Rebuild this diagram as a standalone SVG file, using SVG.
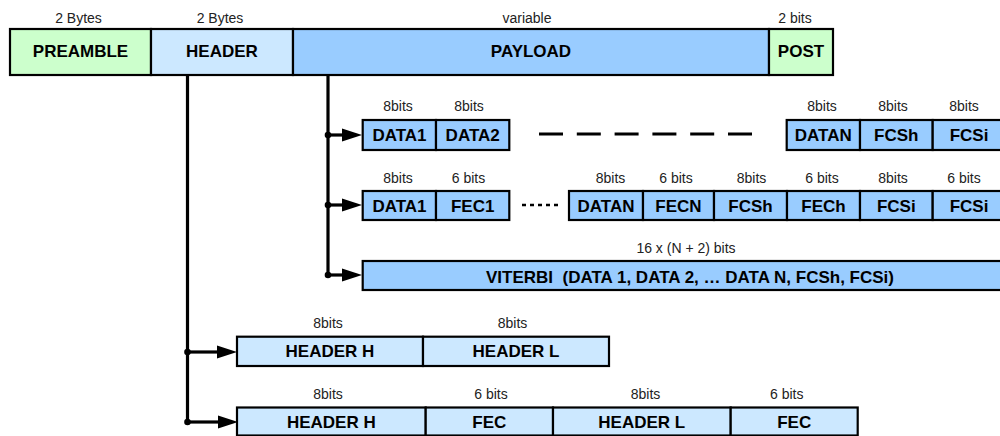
<svg xmlns="http://www.w3.org/2000/svg" width="1000" height="436" viewBox="0 0 1000 436">
<defs>
<style>
.g{fill:#CCFFCC;stroke:#000;stroke-width:2.2}
.h{fill:#CCE8FF;stroke:#000;stroke-width:2.2}
.p{fill:#99CCFF;stroke:#000;stroke-width:2.2}
.b{font-family:"Liberation Sans",Arial,sans-serif;font-weight:bold;font-size:17px;fill:#000;text-anchor:middle}
.l{font-family:"Liberation Sans",Arial,sans-serif;font-size:14px;fill:#222;text-anchor:middle}
.c{fill:none;stroke:#000;stroke-width:3.2}
.d{fill:#000}
</style>
<marker id="ah" markerUnits="userSpaceOnUse" markerWidth="20" markerHeight="14" viewBox="0 0 20 14" refX="1" refY="7" orient="auto"><path d="M0,0.5 L20,7 L0,13.5 z" fill="#000"/></marker>
</defs>
<rect width="1000" height="436" fill="#fff"/>

<g id="connectors">
<path class="c" d="M187.5,74 V422"/>
<path class="c" d="M328,74 V275"/>
<path class="c" d="M187.5,352 H218" marker-end="url(#ah)"/>
<path class="c" d="M187.5,422 H219" marker-end="url(#ah)"/>
<path class="c" d="M328,135 H343" marker-end="url(#ah)"/>
<path class="c" d="M328,205 H343" marker-end="url(#ah)"/>
<path class="c" d="M328,275 H343" marker-end="url(#ah)"/>
<circle class="d" cx="187.5" cy="352" r="3.3"/>
<circle class="d" cx="187.5" cy="422" r="3.3"/>
<circle class="d" cx="328" cy="135" r="3.3"/>
<circle class="d" cx="328" cy="205" r="3.3"/>
<circle class="d" cx="328" cy="275" r="3.3"/>
<path fill="none" stroke="#000" stroke-width="3" stroke-dasharray="24 13.8" d="M539,134 H752"/>
<path fill="none" stroke="#000" stroke-width="2.5" stroke-dasharray="4 4" d="M522,205 H558"/>
</g>

<g id="frame">
<text class="l" x="78.5" y="23">2 Bytes</text>
<text class="l" x="220" y="23">2 Bytes</text>
<text class="l" x="527" y="23">variable</text>
<text class="l" x="795" y="23">2 bits</text>
<g id="preamble"><rect class="g" x="10" y="29" width="141" height="46"/><text class="b" x="80.5" y="57">PREAMBLE</text></g>
<g id="header"><rect class="h" x="151" y="29" width="142" height="46"/><text class="b" x="222" y="57">HEADER</text></g>
<g id="payload"><rect class="p" x="293" y="29" width="476" height="46"/><text class="b" x="531" y="57">PAYLOAD</text></g>
<g id="post"><rect class="g" x="769" y="29" width="64" height="46"/><text class="b" x="801" y="57">POST</text></g>
</g>

<g id="row-data">
<text class="l" x="398" y="111">8bits</text>
<text class="l" x="469" y="111">8bits</text>
<text class="l" x="822" y="111">8bits</text>
<text class="l" x="893" y="111">8bits</text>
<text class="l" x="964" y="111">8bits</text>
<rect class="p" x="362.7" y="120" width="73.3" height="30"/><text class="b" x="399.5" y="141">DATA1</text>
<rect class="p" x="436" y="120" width="73.3" height="30"/><text class="b" x="472.7" y="141">DATA2</text>
<rect class="p" x="786.7" y="120" width="73.3" height="30"/><text class="b" x="823.3" y="141">DATAN</text>
<rect class="p" x="860" y="120" width="72.7" height="30"/><text class="b" x="896.3" y="141">FCSh</text>
<rect class="p" x="932.7" y="120" width="72.7" height="30"/><text class="b" x="969" y="141">FCSi</text>
</g>

<g id="row-fec">
<text class="l" x="398" y="182.5">8bits</text>
<text class="l" x="468.5" y="182.5">6 bits</text>
<text class="l" x="610.5" y="182.5">8bits</text>
<text class="l" x="676" y="182.5">6 bits</text>
<text class="l" x="751.5" y="182.5">8bits</text>
<text class="l" x="822" y="182.5">6 bits</text>
<text class="l" x="893" y="182.5">8bits</text>
<text class="l" x="964" y="182.5">6 bits</text>
<rect class="p" x="362.7" y="191" width="73.3" height="29"/><text class="b" x="399.5" y="211.5">DATA1</text>
<rect class="p" x="436" y="191" width="73.3" height="29"/><text class="b" x="472.7" y="211.5">FEC1</text>
<rect class="p" x="569" y="191" width="74" height="29"/><text class="b" x="606" y="211.5">DATAN</text>
<rect class="p" x="643" y="191" width="71" height="29"/><text class="b" x="678.5" y="211.5">FECN</text>
<rect class="p" x="714" y="191" width="73" height="29"/><text class="b" x="750.5" y="211.5">FCSh</text>
<rect class="p" x="787" y="191" width="73" height="29"/><text class="b" x="823.5" y="211.5">FECh</text>
<rect class="p" x="860" y="191" width="72.7" height="29"/><text class="b" x="896.3" y="211.5">FCSi</text>
<rect class="p" x="932.7" y="191" width="72.7" height="29"/><text class="b" x="969" y="211.5">FCSi</text>
</g>

<g id="row-viterbi">
<text class="l" x="686" y="253">16 x (N + 2) bits</text>
<rect class="p" x="362.7" y="261" width="660" height="29"/>
<text class="b" x="690" y="282.5" style="white-space:pre">VITERBI  (DATA 1, DATA 2, … DATA N, FCSh, FCSi)</text>
</g>

<g id="row-header">
<text class="l" x="328" y="328">8bits</text>
<text class="l" x="512.5" y="328">8bits</text>
<rect class="h" x="237" y="336.7" width="186" height="29.3"/><text class="b" x="330" y="357">HEADER H</text>
<rect class="h" x="423" y="336.7" width="186" height="29.3"/><text class="b" x="516" y="357">HEADER L</text>
</g>

<g id="row-header-fec">
<text class="l" x="328" y="399">8bits</text>
<text class="l" x="491" y="399">6 bits</text>
<text class="l" x="645.5" y="399">8bits</text>
<text class="l" x="786.7" y="399">6 bits</text>
<rect class="h" x="237" y="407.5" width="188.7" height="28"/><text class="b" x="331.3" y="428">HEADER H</text>
<rect class="h" x="425.7" y="407.5" width="127.3" height="28"/><text class="b" x="489.3" y="428">FEC</text>
<rect class="h" x="553" y="407.5" width="177.7" height="28"/><text class="b" x="641.8" y="428">HEADER L</text>
<rect class="h" x="730.7" y="407.5" width="127" height="28"/><text class="b" x="794.2" y="428">FEC</text>
</g>
</svg>
